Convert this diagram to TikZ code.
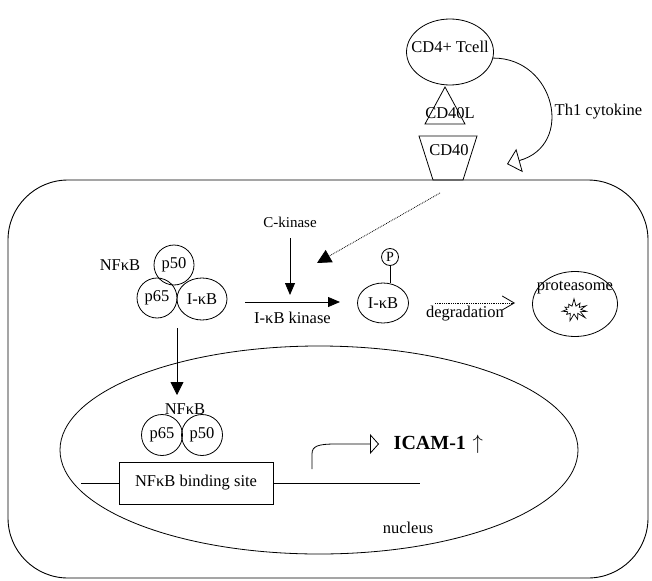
\documentclass[tikz,border=0pt]{standalone}
\usepackage{fontspec}
\setmainfont{Liberation Serif}
\usepackage{tikz}
\usetikzlibrary{arrows.meta,positioning,calc,shapes.geometric,shapes.symbols}

\begin{document}
\begin{tikzpicture}[x=1pt, y=-1pt, line width=0.8pt,
    font=\fontsize{16.5}{19}\selectfont,
    mol/.style={circle, draw, inner sep=0pt, minimum size=40pt},
    blob/.style={ellipse, draw, inner sep=0pt},
    fwd/.style={-{Triangle[length=12pt,width=10pt]}}]
  \useasboundingbox (0,0) rectangle (652,580);

  % T cell and receptor pair
  \node[blob, minimum width=87pt, minimum height=66pt] (tcell) at (450,52) {};
  \node (tcelltxt) at (450,47) {CD4+ Tcell};
  \draw (445,87) -- (465,124) -- (425,124) -- cycle;
  \node (cd40l) at (450,113) {CD40L};
  \draw (419,136) -- (477,136) -- (463,180) -- (433,180) -- cycle;
  \node (cd40) at (449,150) {CD40};
  \coordinate (th1end) at (507,164);
  \draw[-{Triangle[open,length=13pt,width=24pt]}]
    (tcell.-8) .. controls (555,58) and (575,145) .. (th1end);
  \node[anchor=west] (th1) at (551,112) {Th1 cytokine};

  % cell
  \draw[line width=0.9pt, rounded corners=60pt] (8,180) rectangle (648,578);

  \coordinate (sig) at (440,193);
  \coordinate (sigend) at (317,263);
  \draw[densely dotted, -{Triangle[length=14pt,width=14pt]}] (sig) -- (sigend);

  % NFkB / IkB complex
  \node (nfkba) at (120,265) {NFκB};
  \node[mol] (p50a) at (174,265) {p50};
  \node[mol] (p65a) at (157,298) {p65};
  \node[blob, minimum width=50pt, minimum height=42pt] (ikba) at (202,299) {I-κB};

  \node[font=\fontsize{15}{17}\selectfont] (ckin) at (290,222) {C-kinase};
  \coordinate (ckinend) at (290,295);
  \coordinate (kinA) at (245,302);
  \coordinate (kinB) at (340,302);
  \draw[fwd] ([yshift=-7pt]ckin.south) -- (ckinend);
  \draw[fwd] (kinA) -- node[below=6pt] (kinlbl) {I-κB kinase} (kinB);

  % phosphorylated IkB
  \node[blob, minimum width=51pt, minimum height=40pt] (pikb) at (383,303) {I-κB};
  \node[circle, draw, inner sep=0pt, minimum size=17pt,
    font=\fontsize{14}{16}\selectfont] (phos) at (390,257) {P};
  \draw (phos.south) -- (phos.south |- pikb.north);

  \coordinate (degA) at (435,303);
  \coordinate (degB) at (515,303);
  \draw[densely dotted, -{Straight Barb[length=12pt,width=14pt]}] (degA) -- (degB);
  \node (deglbl) at (465,314) {degradation};

  \node[blob, minimum width=85pt, minimum height=65pt] (prot) at (575,304) {};
  \node (prottxt) at (575,288) {proteasome};
  \node[starburst, draw, line width=0.7pt, inner sep=0pt, minimum width=30pt,
    minimum height=24pt, starburst points=11, starburst point height=8pt,
    random starburst=7] (burst) at (574,310) {};

  % nucleus
  \node[blob, minimum width=518pt, minimum height=208pt] (nucleus) at (319,450) {};
  \node (nuclbl) at (408,528) {nucleus};
  \coordinate (impA) at (177,328);
  \coordinate (impB) at (177,395);
  \draw[-{Triangle[length=13pt,width=13pt]}] (impA) -- (impB);
  \node (nfkbb) at (185,409) {NFκB};
  \node[mol, minimum size=41pt] (p65b) at (162,435) {p65};
  \node[mol, minimum size=41pt] (p50b) at (202,435) {p50};

  \node[draw, minimum width=154pt, minimum height=42pt, inner sep=0pt] (bsite) at (196,483) {NFκB binding site};
  \coordinate (dnaL) at (81,483);
  \coordinate (dnaR) at (420,483);
  \draw (dnaL) -- (bsite.west);
  \draw (bsite.east) -- (dnaR);

  \coordinate (tss) at (312,469);
  \coordinate (txend) at (379,444);
  \draw[-{Triangle[open,length=9pt,width=20pt]}]
    (tss) -- (312,454) .. controls (312,446) and (318,444) .. (336,444) -- (txend);
  \node[anchor=west, font=\fontsize{20}{22}\selectfont] (icam) at (390,444)
    {\textbf{ICAM-1}\,\,$\uparrow$};
\end{tikzpicture}
\end{document}
